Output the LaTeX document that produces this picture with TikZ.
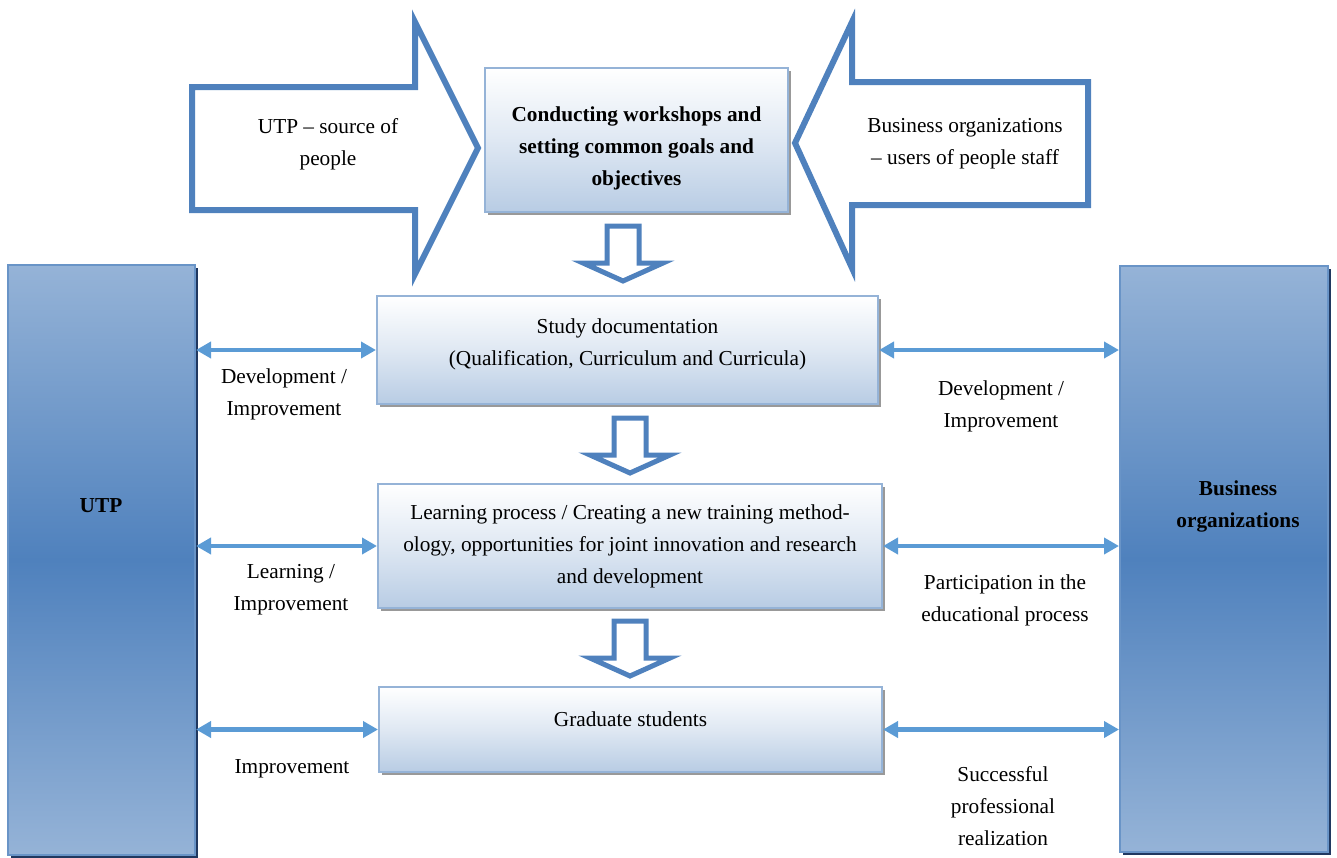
\documentclass[tikz,border=0pt]{standalone}
\usepackage{fontspec}
\setmainfont{Liberation Serif}
\usepackage{tikz}
\usetikzlibrary{arrows.meta,shadows}

\definecolor{accblue}{RGB}{79,129,189}
\definecolor{linkblue}{RGB}{91,155,213}
\definecolor{lightblue}{RGB}{149,179,215}
\definecolor{paleblue}{RGB}{184,204,228}
\definecolor{darkedge}{RGB}{32,56,96}

\newcommand{\diagfont}{\fontsize{21.3pt}{32pt}\selectfont}

\tikzset{
  procbox/.style={draw=lightblue, line width=2pt, top color=white, bottom color=paleblue,
    middle color=paleblue!45, align=center, inner sep=0pt,
    drop shadow={shadow xshift=3pt, shadow yshift=-3pt, fill=gray, opacity=0.8}},
  sidebox/.style={draw=accblue!85, line width=2pt, top color=lightblue, bottom color=lightblue,
    middle color=accblue, inner sep=0pt,
    drop shadow={shadow xshift=2.5pt, shadow yshift=-2.5pt, fill=darkedge, opacity=1}},
  bigarrow/.style={draw=accblue, line width=6pt, fill=white, line join=miter},
  fatarrow/.style={draw=accblue, line width=5pt, fill=white, line join=miter},
  link/.style={draw=linkblue, line width=4.5pt, {Triangle[length=15pt,width=16pt]}-{Triangle[length=15pt,width=16pt]}},
  linklabel/.style={align=center, inner sep=0pt}
}

\begin{document}
\begin{tikzpicture}[x=1pt, y=-1pt, every node/.style={font=\diagfont}]
\useasboundingbox (0,0) rectangle (1337,857);

% side blocks
\node[sidebox, minimum width=187pt, minimum height=590pt] (utp) at (101.5,560) {};
\node[sidebox, minimum width=208pt, minimum height=586pt] (biz) at (1224,559) {};
\node[font=\diagfont\bfseries] (utptext) at (101,506) {UTP};
\node[font=\diagfont\bfseries, align=center] (biztext) at (1238,506) {Business\\organizations};

% big arrows on top
\draw[bigarrow] (192,87) -- (415,87) -- (415,22) -- (478,148) -- (415,274) -- (415,210) -- (192,210) -- cycle;
\draw[bigarrow] (1088,82) -- (852,82) -- (852,22) -- (795,143) -- (852,268) -- (852,205) -- (1088,205) -- cycle;
\node[align=center] (source) at (328,144) {UTP -- source of\\people};
\node[align=center] (users) at (965,144) {Business organizations\\-- users of people staff};

% middle column
\node[procbox, minimum width=303pt, minimum height=144pt, font=\diagfont\bfseries] (conduct) at (636.5,140)
  {\\[-14pt]Conducting workshops and\\setting common goals and\\objectives\\[-40pt]};
\node[procbox, minimum width=501pt, minimum height=108pt] (study) at (627.5,350)
  {Study documentation\\(Qualification, Curriculum and Curricula)\\[-16pt]};
\node[procbox, minimum width=504pt, minimum height=124pt] (learn) at (630,546)
  {Learning process / Creating a new training method-\\ology, opportunities for joint innovation and research\\and development};
\node[procbox, minimum width=503pt, minimum height=85pt] (grad) at (630.5,729.5)
  {Graduate students\\[-12pt]};

% hollow down arrows
\foreach \cx/\ty in {623/226, 630/418, 630/621}
  \draw[fatarrow] (\cx-16,\ty) -- (\cx+16,\ty) -- (\cx+16,\ty+37) -- (\cx+40,\ty+37)
    -- (\cx,\ty+55) -- (\cx-40,\ty+37) -- (\cx-16,\ty+37) -- cycle;

% links
\draw[link] (utp.east |- study.west) -- (study.west);
\draw[link] (study.east) -- (biz.west |- study.east);
\draw[link] (utp.east |- learn.west) -- (learn.west);
\draw[link] (learn.east) -- (biz.west |- learn.east);
\draw[link] (utp.east |- grad.west) -- (grad.west);
\draw[link] (grad.east) -- (biz.west |- grad.east);

\node[linklabel] (devl) at (284,394) {Development /\\Improvement};
\node[linklabel] (devr) at (1001,406) {Development /\\Improvement};
\node[linklabel] (learnl) at (291,590) {Learning /\\Improvement};
\node[linklabel] (partr) at (1005,600) {Participation in the\\educational process};
\node[linklabel] (impl) at (292,769) {Improvement};
\node[linklabel] (succr) at (1003,806) {Successful\\professional\\realization};
\end{tikzpicture}
\end{document}
